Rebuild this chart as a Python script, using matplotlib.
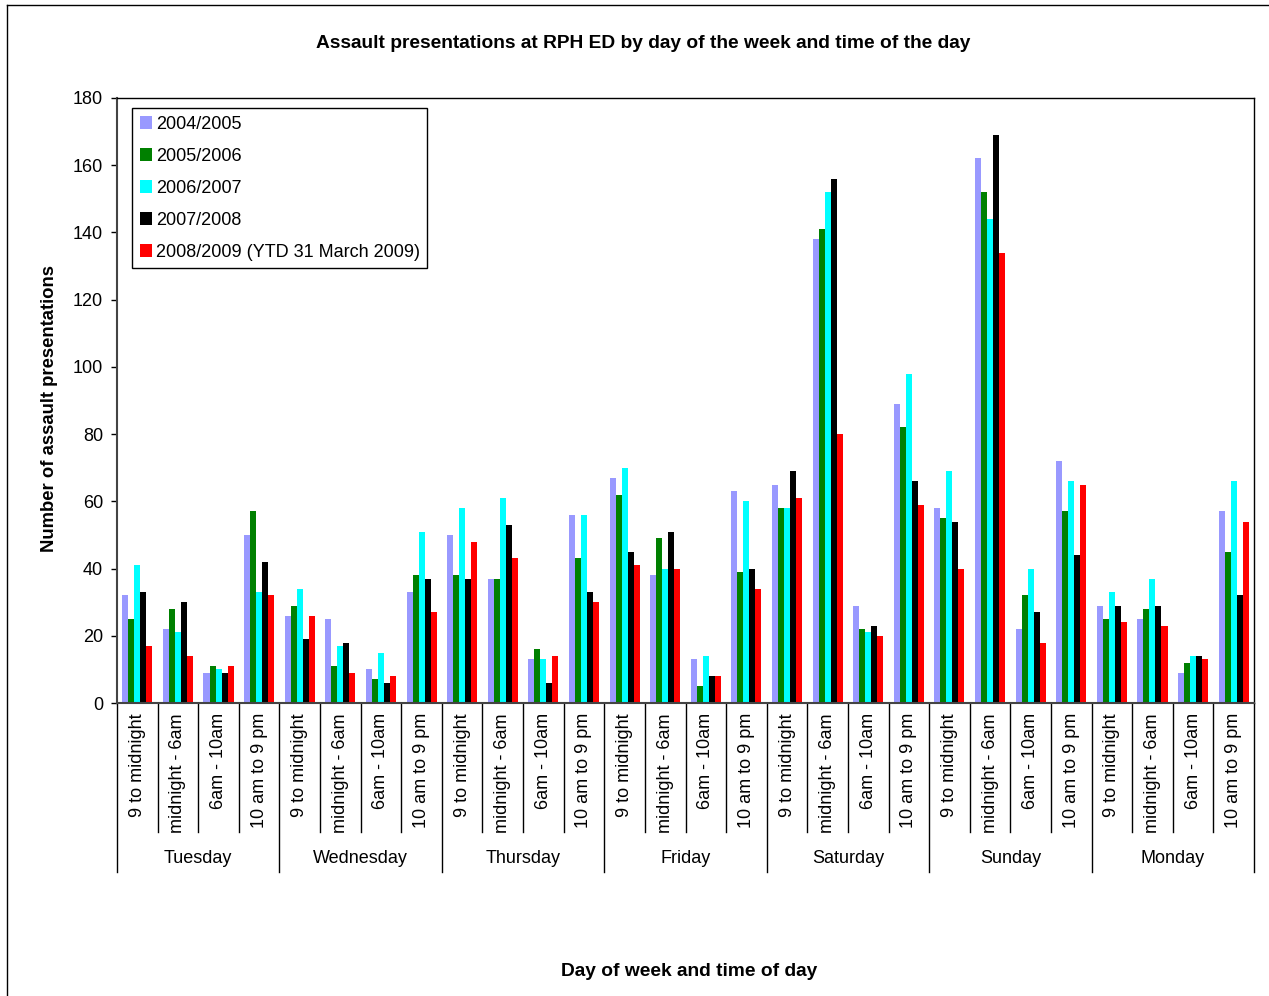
import numpy as np
import matplotlib
matplotlib.use("Agg")
import matplotlib.pyplot as plt
from matplotlib.patches import Patch
from matplotlib.lines import Line2D
import matplotlib.transforms as mtransforms

plt.rcParams['font.family'] = ['Liberation Sans', 'DejaVu Sans']

days = ["Tuesday", "Wednesday", "Thursday", "Friday", "Saturday", "Sunday", "Monday"]
slots = ["9 to midnight", "midnight - 6am", "6am - 10am", "10 am to 9 pm"]
series_names = ["2004/2005", "2005/2006", "2006/2007", "2007/2008",
                "2008/2009 (YTD 31 March 2009)"]
colors = ["#9999FF", "#008000", "#00FFFF", "#000000", "#FF0000"]

# one value per day/slot, in day order
y2004 = [32, 22, 9, 50,  26, 25, 10, 33,  50, 37, 13, 56,  67, 38, 13, 63,
         65, 138, 29, 89,  58, 162, 22, 72,  29, 25, 9, 57]
y2005 = [25, 28, 11, 57,  29, 11, 7, 38,  38, 37, 16, 43,  62, 49, 5, 39,
         58, 141, 22, 82,  55, 152, 32, 57,  25, 28, 12, 45]
y2006 = [41, 21, 10, 33,  34, 17, 15, 51,  58, 61, 13, 56,  70, 40, 14, 60,
         58, 152, 21, 98,  69, 144, 40, 66,  33, 37, 14, 66]
y2007 = [33, 30, 9, 42,  19, 18, 6, 37,  37, 53, 6, 33,  45, 51, 8, 40,
         69, 156, 23, 66,  54, 169, 27, 44,  29, 29, 14, 32]
y2008 = [17, 14, 11, 32,  26, 9, 8, 27,  48, 43, 14, 30,  41, 40, 8, 34,
         61, 80, 20, 59,  40, 134, 18, 65,  24, 23, 13, 54]
series = [y2004, y2005, y2006, y2007, y2008]

W, H = 1269, 996
fig = plt.figure(figsize=(W / 100, H / 100), dpi=100)
fig.set_facecolor("white")

# chart-area border
fig.add_artist(Line2D([7 / W, 7 / W], [0, 1 - 5 / H], transform=fig.transFigure,
                      color="black", lw=1))
fig.add_artist(Line2D([7 / W, 1], [1 - 5 / H, 1 - 5 / H], transform=fig.transFigure,
                      color="black", lw=1))

left, right, top, bottom = 117, 1254, 98, 703
ax = fig.add_axes([left / W, 1 - bottom / H, (right - left) / W, (bottom - top) / H])

n = len(y2004)
x = np.arange(n) + 0.5
bw = 0.148
for i, (vals, c, name) in enumerate(zip(series, colors, series_names)):
    ax.bar(x + (i - 2) * bw, vals, width=bw, color=c, label=name, linewidth=0)

ax.set_xlim(0, n)
ax.set_ylim(0, 180)
ax.set_yticks(range(0, 181, 20))
ax.tick_params(axis="y", direction="out", length=4, width=1, labelsize=13, pad=6)
ax.set_xticks([])
for s in ax.spines.values():
    s.set_color("black")
    s.set_linewidth(1)
ax.spines["left"].set_color("#444444")
ax.spines["bottom"].set_color("#444444")
ax.spines["left"].set_linewidth(1.5)
ax.spines["bottom"].set_linewidth(1.5)

# two-level category axis
trans = mtransforms.blended_transform_factory(ax.transData, ax.transAxes)
ph = bottom - top
slot_depth = -(832 - bottom) / ph
day_depth = -(872 - bottom) / ph
for k in range(n + 1):
    depth = day_depth if k % 4 == 0 else slot_depth
    ax.add_line(Line2D([k, k], [0, depth], transform=trans, color="black",
                       lw=1, clip_on=False))
for i in range(n):
    ax.text(x[i], -(713 - bottom) / ph, slots[i % 4], transform=trans,
            rotation=90, ha="center", va="top", fontsize=13)
for d, day in enumerate(days):
    ax.text(d * 4 + 2, -(858 - bottom) / ph, day, transform=trans,
            ha="center", va="center", fontsize=13)

fig.text(643 / W, 1 - 43 / H, "Assault presentations at RPH ED by day of the week and time of the day",
         ha="center", va="center", fontsize=13.8, fontweight="bold")
fig.text(689 / W, 1 - 971 / H, "Day of week and time of day",
         ha="center", va="center", fontsize=13.8, fontweight="bold")
fig.text(50 / W, 1 - 409 / H, "Number of assault presentations",
         ha="center", va="center", rotation=90, fontsize=13.3, fontweight="bold")

handles = [Patch(facecolor=c, edgecolor="none") for c in colors]
leg = ax.legend(handles, series_names, loc="upper left",
                bbox_to_anchor=((132 - left) / (right - left), 1 - (108 - top) / ph),
                borderaxespad=0, fontsize=13, frameon=True, fancybox=False,
                edgecolor="black", framealpha=1, handlelength=0.7, handleheight=0.7,
                handletextpad=0.2, labelspacing=0.83, borderpad=0.42)
leg.get_frame().set_linewidth(1)

fig.savefig("out.png", dpi=100, facecolor="white")
